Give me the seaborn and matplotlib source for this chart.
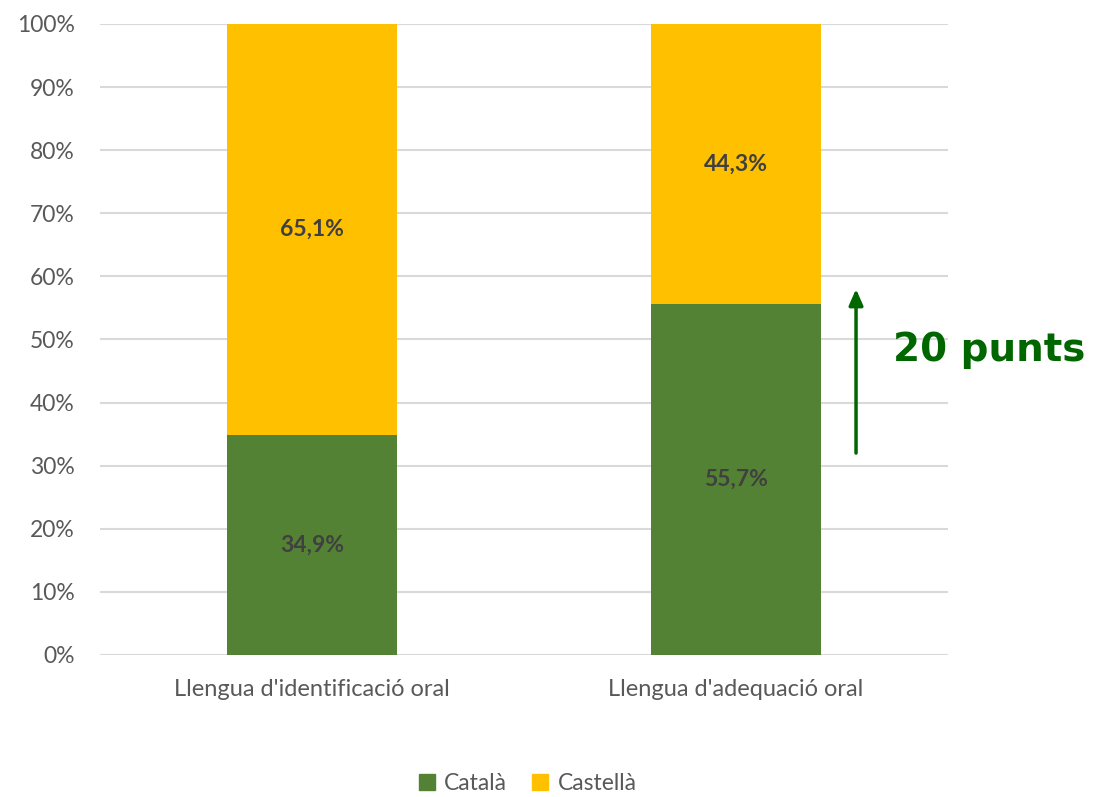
import matplotlib
matplotlib.use("Agg")
import matplotlib.pyplot as plt
import seaborn as sns
import pandas as pd
from matplotlib.patches import Patch

categories = ["Llengua d'identificació oral", "Llengua d'adequació oral"]
catala = [34.9, 55.7]
castella = [65.1, 44.3]
series_names = ["Català", "Castellà"]
yticks = [0, 10, 20, 30, 40, 50, 60, 70, 80, 90, 100]
arrow_from, arrow_to = 32, 58
annotation = "20 punts"

GREEN = "#548235"
YELLOW = "#FFC000"

sns.set_theme(style="white")
plt.rcParams['font.family'] = ['Lato', 'DejaVu Sans']

fig = plt.figure(figsize=(10.95, 7.97), dpi=100)
ax = fig.add_axes([0.0913, 0.1782, 0.7745, 0.7917])

df = pd.DataFrame({"cat": categories, "catala": catala, "castella": castella})
df["total"] = df["catala"] + df["castella"]

sns.barplot(data=df, x="cat", y="total", color=YELLOW, width=0.403, ax=ax,
            saturation=1, zorder=3, linewidth=0)
sns.barplot(data=df, x="cat", y="catala", color=GREEN, width=0.403, ax=ax,
            saturation=1, zorder=3, linewidth=0)

for i, (c, s) in enumerate(zip(catala, castella)):
    ax.text(i, c / 2, f"{c:.1f}".replace(".", ",") + "%", ha="center", va="center",
            fontsize=16.5, fontweight="bold", color="#404040", zorder=5)
    ax.text(i, c + s / 2, f"{s:.1f}".replace(".", ",") + "%", ha="center", va="center",
            fontsize=16.5, fontweight="bold", color="#404040", zorder=5)

ax.set_xlim(-0.5, 1.5)
ax.set_ylim(0, 100)
ax.set_yticks(yticks)
ax.set_yticklabels([f"{t}%" for t in yticks], fontsize=16.5, color="#595959")
ax.tick_params(axis="x", labelsize=17, labelcolor="#595959", pad=17, length=0)
ax.tick_params(axis="y", length=0, pad=18)
ax.set_xlabel("")
ax.set_ylabel("")
ax.grid(axis="y", color="#D9D9D9", linewidth=1.5, zorder=0)
ax.set_axisbelow(True)
for sp in ax.spines.values():
    sp.set_visible(False)

ax.annotate("", xy=(1.283, arrow_to), xytext=(1.283, arrow_from),
            arrowprops=dict(arrowstyle="-|>,head_length=0.8,head_width=0.35",
                            color="#006600", lw=2.5, shrinkA=0, shrinkB=0),
            annotation_clip=False)
fig.text(0.8155, 0.561, annotation, fontsize=28, fontweight="bold", color="#006600",
         family="DejaVu Sans", ha="left", va="center")

handles = [Patch(color=GREEN, label=series_names[0]), Patch(color=YELLOW, label=series_names[1])]
fig.legend(handles=handles, loc="center", bbox_to_anchor=(0.482, 0.017), ncol=2,
           frameon=False, fontsize=16.5, labelcolor="#595959", handlelength=0.7,
           handleheight=0.7, handletextpad=0.4, columnspacing=1.1)

fig.savefig("out.png", dpi=100)
